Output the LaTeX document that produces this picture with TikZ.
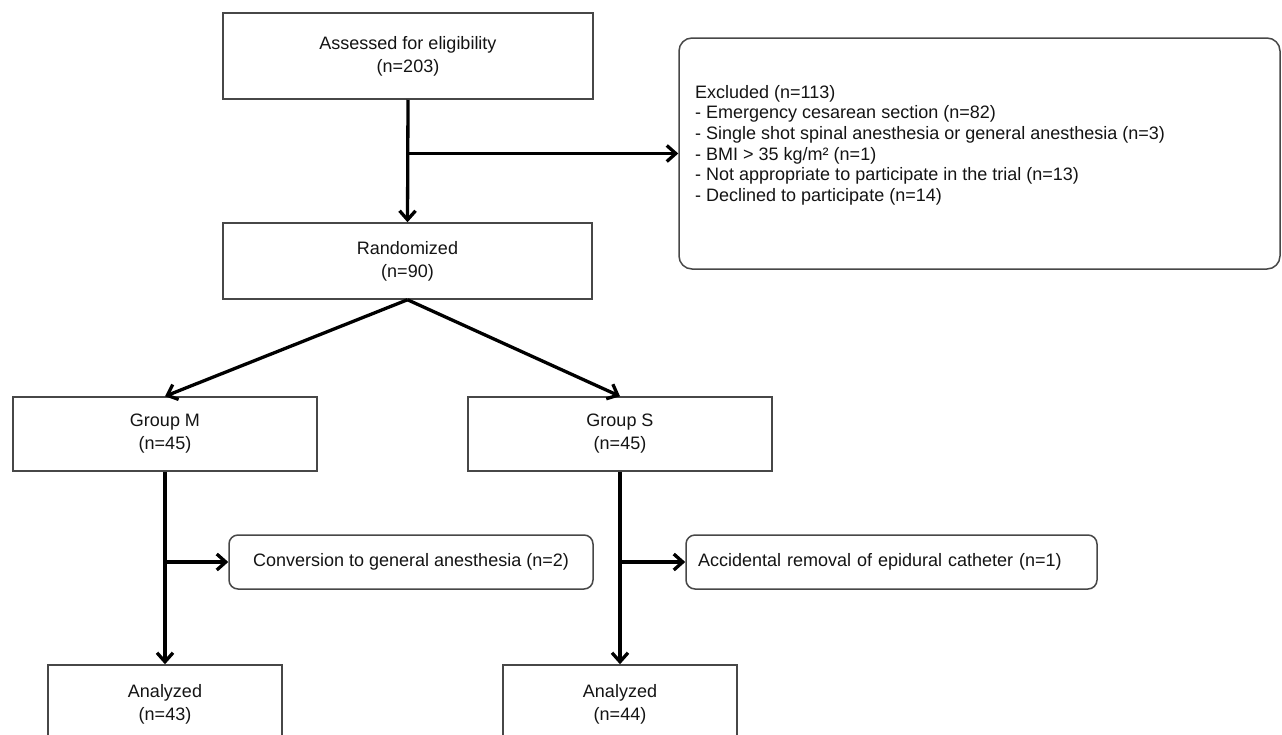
\documentclass[tikz,border=0pt]{standalone}
\usepackage{fontspec}
\setmainfont{Liberation Sans}
\usetikzlibrary{arrows.meta}
\begin{document}
\begin{tikzpicture}[x=1pt,y=-1pt,
  box/.style={draw=black!72, line width=1.5pt, fill=white, align=center, inner sep=0pt,
    font=\fontsize{18}{23}\selectfont, text=black!92},
  rbox/.style={box, rounded corners=9pt},
  arr/.style={line width=3.3pt, -{Straight Barb[length=9pt,width=16pt,line width=3.3pt]}}]
\useasboundingbox (0,0) rectangle (1282,734);
\clip (0,0) rectangle (1282,734);
% nodes
\node[box, minimum width=370pt, minimum height=86pt] (assess) at (408,56) {Assessed for eligibility\\(n=203)};
\node[box, minimum width=369pt, minimum height=76pt] (rand) at (407.5,261) {Randomized\\(n=90)};
\node[rbox, rounded corners=13pt, minimum width=601pt, minimum height=231pt] (excl) at (979.5,153.5) {};
\node[anchor=north west, inner sep=0pt, align=left, text=black!92,
  font=\fontsize{18}{20.6}\selectfont] (excltext) at (695,85)
  {Excluded (n=113)\\
   - Emergency cesarean section (n=82)\\
   - Single shot spinal anesthesia or general anesthesia (n=3)\\
   - BMI > 35 kg/m² (n=1)\\
   - Not appropriate to participate in the trial (n=13)\\
   - Declined to participate (n=14)};
\node[box, minimum width=304pt, minimum height=74pt] (gm) at (165,434) {Group M\\(n=45)};
\node[box, minimum width=304pt, minimum height=74pt] (gs) at (620,434) {Group S\\(n=45)};
\node[rbox, minimum width=364pt, minimum height=54pt] (conv) at (411,562) {Conversion to general anesthesia (n=2)};
\node[rbox, text width=387pt, inner xsep=12pt, align=left, minimum height=54pt] (accid) at (891.5,562) {Accidental removal of epidural catheter (n=1)};
\node[box, minimum width=234pt, minimum height=78pt] (am) at (165,704) {Analyzed\\(n=43)};
\node[box, minimum width=234pt, minimum height=78pt] (as) at (620,704) {Analyzed\\(n=44)};
% branch points
\coordinate (b1) at (assess.south |- excl.west);
\coordinate (b2) at (gm.south |- conv.west);
\coordinate (b3) at (gs.south |- accid.west);
% connectors
\draw[arr] (assess.south) -- (rand.north);
\draw[arr] (b1) -- (excl.west);
\draw[arr] (rand.south) -- (gm.north);
\draw[arr] (rand.south) -- (gs.north);
\draw[arr] (gm.south) -- (am.north);
\draw[arr] (b2) -- (conv.west);
\draw[arr] (gs.south) -- (as.north);
\draw[arr] (b3) -- (accid.west);
\end{tikzpicture}
\end{document}
